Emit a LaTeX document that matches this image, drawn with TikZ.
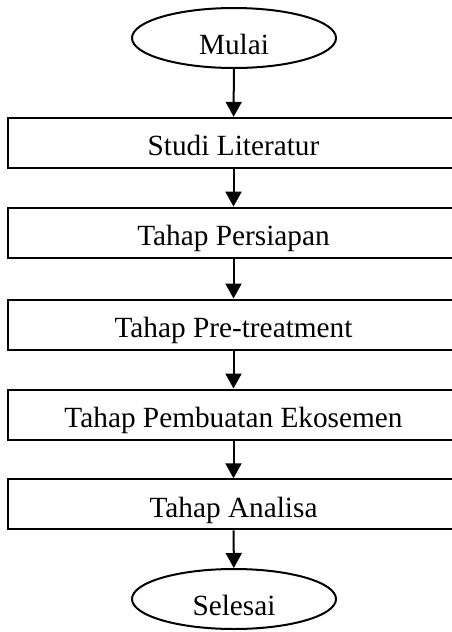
\documentclass[tikz,border=0pt]{standalone}
\usepackage{fontspec}
\setmainfont{Liberation Serif}
\usetikzlibrary{arrows.meta,shapes.geometric}
\begin{document}
\begin{tikzpicture}[x=1pt,y=-1pt,
  every node/.style={font=\fontsize{29.3}{35}\selectfont, draw, line width=2pt, inner sep=0pt},
  stepbox/.style={rectangle, minimum width=451pt, minimum height=50pt, text height=26pt, text depth=0pt},
  terminal/.style={ellipse, minimum width=204pt, minimum height=60pt, text height=32pt, text depth=0pt},
  flow/.style={line width=2pt, -{Triangle[length=15pt,width=16pt]}}]
\useasboundingbox (0,0) rectangle (451,632);
% start and end terminals with the five process steps between them
\node[terminal] (start) at (234,38) {Mulai};
\node[stepbox] (s1) at (233.5,142.8) {Studi Literatur};
\node[stepbox] (s2) at (233.5,232.6) {Tahap Persiapan};
\node[stepbox] (s3) at (233.5,324.5) {Tahap Pre-treatment};
\node[stepbox] (s4) at (233.5,414.5) {Tahap Pembuatan Ekosemen};
\node[stepbox] (s5) at (233.5,504.3) {Tahap Analisa};
\node[terminal] (stop) at (234,599) {Selesai};
% process flow
\draw[flow] (start) -- (s1);
\draw[flow] (s1) -- (s2);
\draw[flow] (s2) -- (s3);
\draw[flow] (s3) -- (s4);
\draw[flow] (s4) -- (s5);
\draw[flow] (s5) -- (stop);
\end{tikzpicture}
\end{document}
